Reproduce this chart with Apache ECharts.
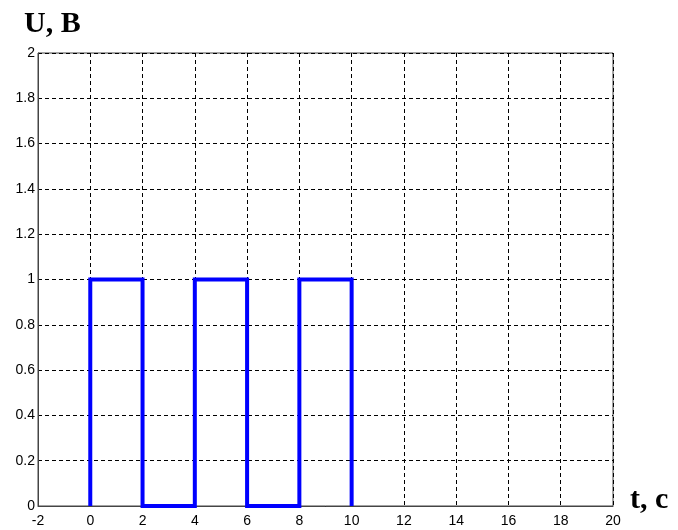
<!DOCTYPE html>
<html><head><meta charset="utf-8">
<script src="https://cdn.jsdelivr.net/npm/echarts@6/dist/echarts.min.js"></script>
<style>html,body{margin:0;padding:0;background:#fff}#c{width:678px;height:530px}</style>
</head><body><div id="c"></div>
<script>
const tValues = [0, 0, 2, 2, 4, 4, 6, 6, 8, 8, 10, 10];
const uValues = [0, 1, 1, 0, 0, 1, 1, 0, 0, 1, 1, 0];
const yAxisName = 'U, B';
const xAxisName = 't, c';

const chart = echarts.init(document.getElementById('c'));
const lbl = {fontFamily: 'Liberation Sans, Arial, sans-serif', fontSize: 14, color: '#000'};
const nameFont = {fontFamily: 'Liberation Serif, Times New Roman, serif', fontWeight: 'bold', fontSize: 30, fill: '#000'};
chart.setOption({
  animation: false,
  backgroundColor: '#fff',
  grid: {left: 38, top: 53, right: 65, bottom: 24, show: true, borderColor: '#444', borderWidth: 1},
  xAxis: {
    type: 'value', min: -2, max: 20, interval: 2,
    axisLine: {show: true, onZero: false, lineStyle: {color: '#444', width: 1}},
    axisTick: {show: false},
    axisLabel: Object.assign({margin: 8}, lbl),
    splitLine: {show: true, lineStyle: {color: '#000', type: [4, 3], width: 1}}
  },
  yAxis: {
    type: 'value', min: 0, max: 2, interval: 0.2,
    axisLine: {show: true, onZero: false, lineStyle: {color: '#444', width: 1}},
    axisTick: {show: false},
    axisLabel: Object.assign({margin: 3}, lbl),
    splitLine: {show: true, lineStyle: {color: '#000', type: [4, 3], width: 1}}
  },
  graphic: [
    {type: 'text', left: 24, top: 9, style: Object.assign({text: yAxisName}, nameFont)},
    {type: 'text', left: 630, top: 485, style: Object.assign({text: xAxisName}, nameFont)}
  ],
  series: [{
    type: 'line',
    data: tValues.map((t, i) => [t, uValues[i]]),
    showSymbol: false,
    clip: false,
    lineStyle: {color: '#0000ff', width: 4, join: 'miter'},
    itemStyle: {color: '#0000ff'}
  }]
});
</script></body></html>
